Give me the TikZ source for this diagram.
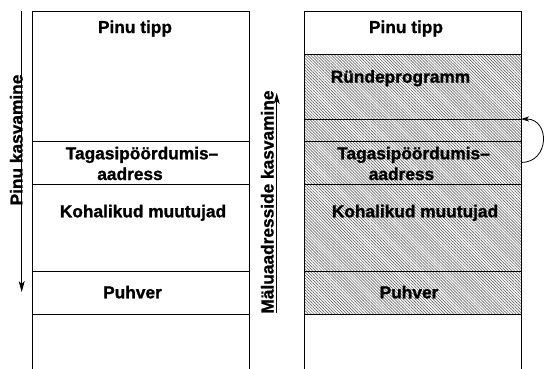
\documentclass[tikz,border=0pt]{standalone}
\usepackage{fontspec}
\setmainfont{Liberation Sans}[BoldFeatures={FakeBold=1.2}]
\usetikzlibrary{patterns.meta,arrows.meta}
\begin{document}
\begin{tikzpicture}[x=1pt,y=-1pt,
  seg/.style={draw, line width=0.8pt, rectangle, inner sep=0pt, outer sep=0pt,
    minimum width=217pt},
  hatch/.style={pattern={Lines[angle=-45,distance=2.1pt,line width=0.65pt]},
    pattern color=black!60},
  lbl/.style={font=\bfseries\fontsize{17.3}{20}\selectfont, anchor=base, inner sep=0pt},
  vlbl/.style={lbl, rotate=90},
  growth/.style={line width=0.8pt, -{Stealth[length=11pt,width=6pt,inset=3pt]}}
]
\useasboundingbox (0,0) rectangle (544,368);

% left stack (normal frame)
\node[seg, minimum height=130pt] (L1) at (140.5,76) {};
\node[seg, minimum height=43pt]  (L2) at (140.5,162.5) {};
\node[seg, minimum height=87pt]  (L3) at (140.5,227.5) {};
\node[seg, minimum height=43pt]  (L4) at (140.5,292.5) {};
\draw[line width=0.8pt] (L4.south west) -- (32,372);
\draw[line width=0.8pt] (L4.south east) -- (249,372);

% right stack (overflowed frame)
\node[seg, minimum height=43pt]         (R1) at (412.5,32.5) {};
\node[seg, hatch, minimum height=65pt]  (R2) at (412.5,86.5) {};
\node[seg, hatch, minimum height=22pt]  (R3) at (412.5,130) {};
\node[seg, hatch, minimum height=43pt]  (R4) at (412.5,162.5) {};
\node[seg, hatch, minimum height=87pt]  (R5) at (412.5,227.5) {};
\node[seg, hatch, minimum height=43pt]  (R6) at (412.5,292.5) {};
\draw[line width=0.8pt] (R6.south west) -- (304,372);
\draw[line width=0.8pt] (R6.south east) -- (521,372);

% labels, left
\node[lbl] (tl1) at (135,33) {Pinu tipp};
\node[lbl] (tl2) at (142,159.3) {Tagasipöördumis–};
\node[lbl] (tl3) at (130,180) {aadress};
\node[lbl] (tl4) at (143,217.3) {Kohalikud muutujad};
\node[lbl] (tl5) at (132.5,298.3) {Puhver};

% labels, right
\node[lbl] (tr1) at (406,33) {Pinu tipp};
\node[lbl] (tr2) at (400.5,82.7) {Ründeprogramm};
\node[lbl] (tr3) at (413.5,159.3) {Tagasipöördumis–};
\node[lbl] (tr4) at (401.5,180) {aadress};
\node[lbl] (tr5) at (415,217.3) {Kohalikud muutujad};
\node[lbl] (tr6) at (409,298.3) {Puhver};

% stack growth direction
\node[vlbl] (sg) at (22.5,140) {Pinu kasvamine};
\coordinate (sgA) at (21.7,11);
\coordinate (sgB) at (21.7,292);
\draw[growth] (sgA) -- (sgB);

% address growth direction
\node[vlbl] (ag) at (273.5,202) {Mäluaadresside kasvamine};
\coordinate (agA) at (276.7,313);
\coordinate (agB) at (276.7,93);
\draw[growth] (agA) -- (agB);

% overwritten return address points into the injected code
\draw[line width=0.8pt, -{Stealth[length=8pt,width=5pt,inset=2pt]}]
  (R4.east) .. controls +(29,0) and +(29,0) .. (R3.north east);
\end{tikzpicture}
\end{document}
